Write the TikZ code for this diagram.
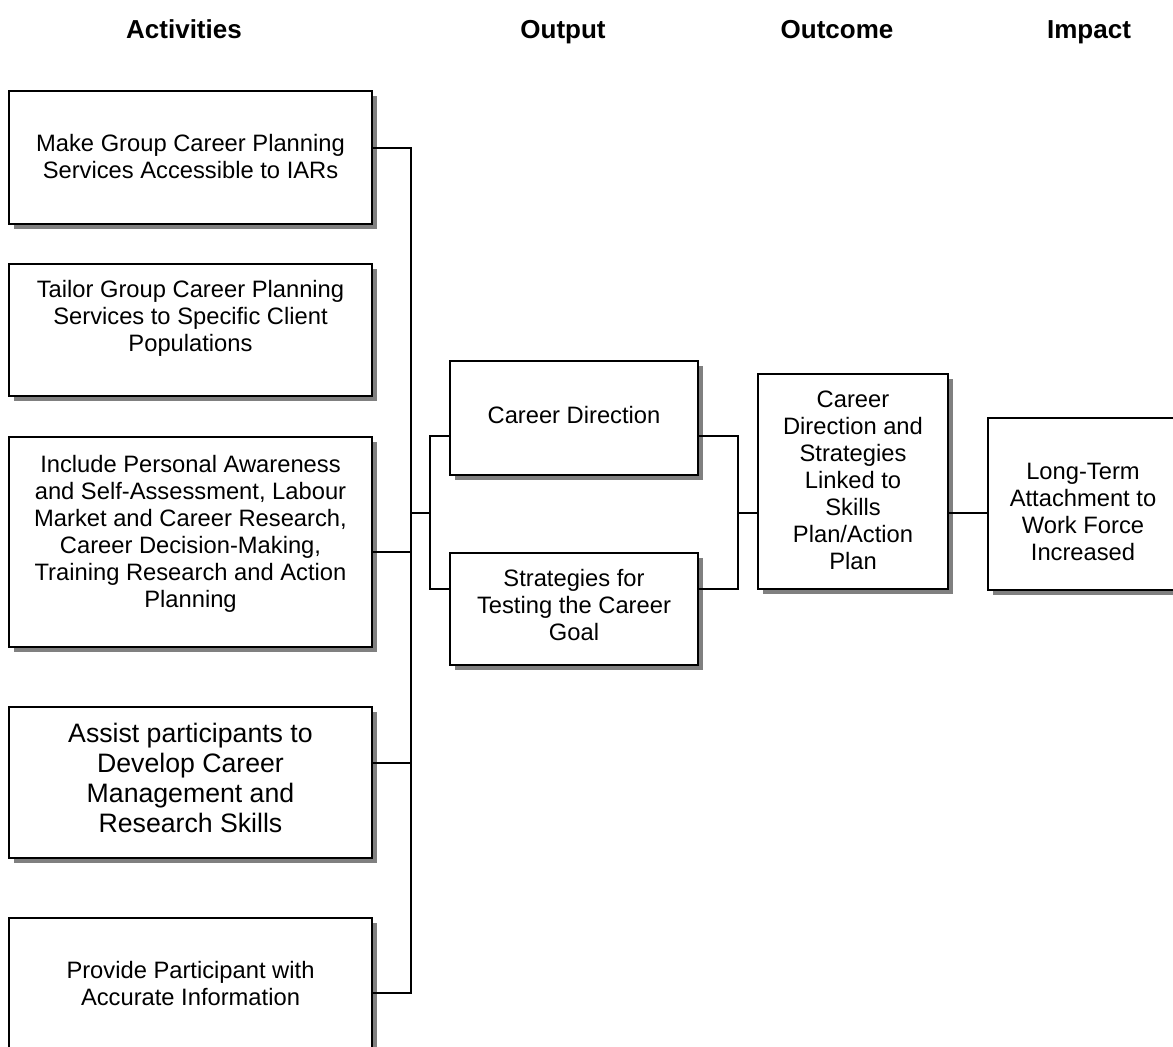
\documentclass[tikz,border=0pt]{standalone}
\usepackage{fontspec}
\setmainfont{Liberation Sans}
\usetikzlibrary{shadows}
\definecolor{shadowgray}{HTML}{808080}
\begin{document}
\begin{tikzpicture}[x=0.75pt, y=-0.75pt,
  box/.style={draw, line width=1.5pt, fill=white, inner sep=0pt,
    drop shadow={shadow xshift=3.75pt, shadow yshift=-3.75pt, fill=shadowgray, opacity=1}},
  sz/.style 2 args={minimum width=#1*0.75pt, minimum height=#2*0.75pt},
  wire/.style={line width=1.1pt},
  txt/.style={align=center, inner sep=0pt, font=\fontsize{17.8}{20.25}\selectfont},
  bigtxt/.style={align=center, inner sep=0pt, font=\fontsize{20}{22.5}\selectfont},
  head/.style={anchor=base, inner sep=0pt, font=\fontsize{19.5}{22}\selectfont\bfseries}]
\useasboundingbox (0,0) rectangle (1173,1046);
\clip (0,0) rectangle (1173,1046);

% column headings
\node[head] (hAct) at (184,38) {Activities};
\node[head] (hOut) at (563,38) {Output};
\node[head] (hOc)  at (837,38) {Outcome};
\node[head] (hImp) at (1089,38) {Impact};

% activity boxes
\node[box, sz={363}{133}] (A1) at (190.5,157.5) {};
\node[box, sz={363}{132}] (A2) at (190.5,330) {};
\node[box, sz={363}{210}] (A3) at (190.5,542) {};
\node[box, sz={363}{151}] (A4) at (190.5,782.5) {};
\node[box, sz={363}{171}] (A5) at (190.5,1003.5) {};

\node[txt] (tA1) at (190.5,157) {Make Group Career Planning\\Services Accessible to IARs};
\node[txt] (tA2) at (190.5,318) {Tailor Group Career Planning\\Services to Specific Client\\Populations};
\node[txt] (tA3) at (190.5,534) {Include Personal Awareness\\and Self-Assessment, Labour\\Market and Career Research,\\Career Decision-Making,\\Training Research and Action\\Planning};
\node[bigtxt] (tA4) at (190.5,777.5) {Assist participants to\\Develop Career\\Management and\\Research Skills};
\node[txt] (tA5) at (190.5,983.5) {Provide Participant with\\Accurate Information};

% output boxes
\node[box, sz={248}{114}] (O1) at (574,418) {};
\node[box, sz={248}{112}] (O2) at (574,609) {};
\node[txt] (tO1) at (574,415.5) {Career Direction};
\node[txt] (tO2) at (574,605.5) {Strategies for\\Testing the Career\\Goal};

% outcome box
\node[box, sz={190}{215}] (C) at (853,481.5) {};
\node[txt] (tC) at (853,480.5) {Career\\Direction and\\Strategies\\Linked to\\Skills\\Plan/Action\\Plan};

% impact box
\node[box, sz={190}{172}] (I) at (1083,504) {};
\node[txt] (tI) at (1083,511.5) {Long-Term\\Attachment to\\Work Force\\Increased};

% connector rows and junctions
\coordinate (r1) at (411,148);
\coordinate (r3) at (411,552);
\coordinate (r4) at (411,763);
\coordinate (r5) at (411,993);
\coordinate (feed) at (411,513);
\coordinate (jl) at (430,513);
\coordinate (jr) at (738,513);
\coordinate (o1y) at (0,436);
\coordinate (o2y) at (0,589);

% activities bus
\draw[wire] (A1.east |- r1) -- (r1) -- (r5) -- (A5.east |- r5);
\draw[wire] (A3.east |- r3) -- (r3);
\draw[wire] (A4.east |- r4) -- (r4);
\draw[wire] (feed) -- (jl);

% outputs
\draw[wire] (O1.west |- o1y) -| (jl) |- (O2.west |- o2y);
\draw[wire] (O1.east |- o1y) -| (jr) |- (O2.east |- o2y);
\draw[wire] (jr) -- (C.west |- jr);
\draw[wire] (C.east |- jr) -- (I.west |- jr);
\end{tikzpicture}
\end{document}
